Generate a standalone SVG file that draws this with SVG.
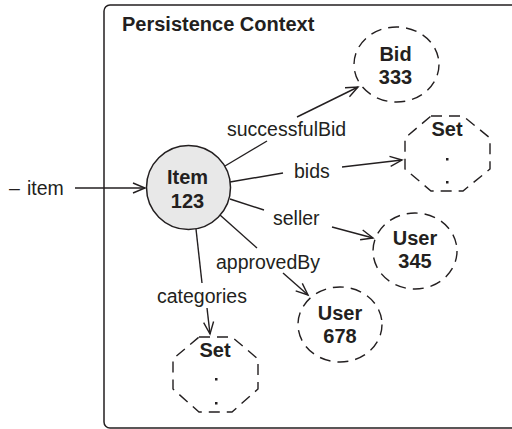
<svg xmlns="http://www.w3.org/2000/svg" width="512" height="429" viewBox="0 0 512 429">
<style>
.lbl{font-family:"Liberation Sans",Arial,sans-serif;font-size:19.5px;fill:#231f20}
.b{font-family:"Liberation Sans",Arial,sans-serif;font-size:20px;font-weight:bold;fill:#231f20;text-anchor:middle}
.dash{fill:none;stroke:#231f20;stroke-width:1.4;stroke-dasharray:11 7}
.ln{fill:none;stroke:#231f20;stroke-width:1.4}
</style>
<defs>
<marker id="arr" markerUnits="userSpaceOnUse" markerWidth="16" markerHeight="14" refX="13" refY="6" orient="auto">
<path d="M1,1 L13,6 L1,11" fill="none" stroke="#231f20" stroke-width="1.4"/>
</marker>
</defs>
<rect width="512" height="429" fill="#fff"/>
<g id="frame">
<rect x="104" y="5" width="420" height="423" rx="6" fill="none" stroke="#231f20" stroke-width="1.5"/>
<text x="122" y="31" class="b" style="text-anchor:start">Persistence Context</text>
</g>
<g id="connectors">
<line class="ln" x1="75" y1="188" x2="145" y2="188" marker-end="url(#arr)"/>
<line class="ln" x1="225" y1="166" x2="267" y2="141"/>
<line class="ln" x1="297" y1="117" x2="358" y2="87" marker-end="url(#arr)"/>
<line class="ln" x1="230" y1="182" x2="283" y2="173"/>
<line class="ln" x1="342" y1="167" x2="402" y2="160" marker-end="url(#arr)"/>
<line class="ln" x1="230" y1="199" x2="264" y2="210"/>
<line class="ln" x1="332" y1="227" x2="373" y2="238" marker-end="url(#arr)"/>
<line class="ln" x1="220" y1="215" x2="257" y2="248"/>
<line class="ln" x1="283" y1="273" x2="308" y2="295" marker-end="url(#arr)"/>
<line class="ln" x1="196" y1="229" x2="202" y2="283"/>
<line class="ln" x1="207" y1="308" x2="210" y2="334" marker-end="url(#arr)"/>
<text class="lbl" x="9" y="195">–</text>
<text class="lbl" x="27" y="195">item</text>
<text class="lbl" x="227" y="136">successfulBid</text>
<text class="lbl" x="294" y="178">bids</text>
<text class="lbl" x="273" y="225">seller</text>
<text class="lbl" x="216" y="269">approvedBy</text>
<text class="lbl" x="157" y="303">categories</text>
</g>
<g id="item123">
<circle cx="188.5" cy="187.5" r="42" fill="#e8e8e8" stroke="#231f20" stroke-width="1.5"/>
<text class="b" x="187.5" y="184">Item</text>
<text class="b" x="187.5" y="208">123</text>
</g>
<g id="bid333">
<ellipse class="dash" cx="396.5" cy="64.5" rx="42.5" ry="37.5"/>
<text class="b" x="395.5" y="61">Bid</text>
<text class="b" x="395.5" y="84">333</text>
</g>
<g id="setBids">
<polygon class="dash" points="431,116 463,116 490,138 490,169 463,191 431,191 405,169 405,138"/>
<text class="b" x="447" y="136">Set</text>
<rect x="446" y="158" width="2.5" height="2.5" fill="#231f20"/>
<rect x="446" y="181" width="2.5" height="2.5" fill="#231f20"/>
</g>
<g id="user345">
<ellipse class="dash" cx="415" cy="251" rx="42" ry="38"/>
<text class="b" x="415" y="245">User</text>
<text class="b" x="415" y="268">345</text>
</g>
<g id="user678">
<ellipse class="dash" cx="340" cy="324.5" rx="42" ry="37.5"/>
<text class="b" x="340" y="320">User</text>
<text class="b" x="340" y="343">678</text>
</g>
<g id="setCategories">
<polygon class="dash" points="199,337 232,337 258,359 258,389 232,412 199,412 173,389 173,359"/>
<text class="b" x="215" y="357">Set</text>
<rect x="215" y="378" width="2.5" height="2.5" fill="#231f20"/>
<rect x="215" y="402" width="2.5" height="2.5" fill="#231f20"/>
</g>
</svg>
